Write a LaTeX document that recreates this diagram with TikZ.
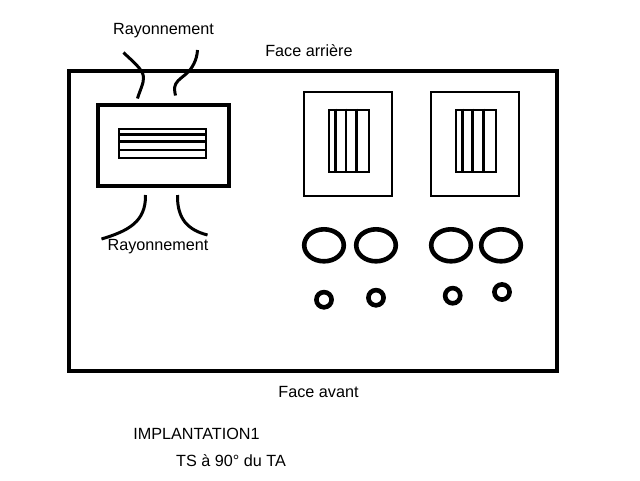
\documentclass[tikz,border=0pt]{standalone}
\usepackage{fontspec}
\setmainfont{Liberation Sans}
\tikzset{
  thick line/.style={line width=4pt,black},
  round part/.style={line width=4.6pt,black},
  thin box/.style={line width=2pt,black},
  strand/.style={line width=3pt,black,line cap=butt},
  fine strand/.style={line width=2.4pt,black},
  flow/.style={line width=3pt,black,line join=round},
  label text/.style={inner sep=0pt,anchor=center,font=\fontsize{16.2}{19}\selectfont,text=black}
}
\begin{document}
\begin{tikzpicture}[x=1pt,y=-1pt]
\useasboundingbox (0,0) rectangle (640,480);
\fill[white] (0,0) rectangle (640,480);

% Enclosure
\draw[thick line] (69,71) rectangle (557,371);

% Radiation paths around the horizontal unit
\draw[flow] (123.5,52.5) .. controls (131,60) and (143,69) .. (143.5,77) .. controls (144,83) and (140,90) .. (137.5,98.5);
\draw[flow] (197.5,50) .. controls (197,60) and (192,69) .. (186,74) .. controls (180,79) and (175,82) .. (174.5,88) .. controls (174.5,91) and (175,93) .. (175.5,95.5);
\draw[flow] (145.5,195) .. controls (146,222) and (128,231) .. (101.5,239);
\draw[flow] (177.5,195) .. controls (177,219) and (188,230) .. (207.5,235);

% Horizontal unit
\draw[thick line] (97.5,104.5) rectangle (229,186);
\draw[thin box] (119,129) rectangle (206,158.3);
\draw[fine strand] (118,134.3) -- (206,134.3);
\draw[strand] (119,141) -- (206,141);
\draw[fine strand] (119,149.7) -- (206,149.7);

% First vertical unit
\draw[thin box] (304,92) rectangle (392,195.7);
\draw[thin box] (328.7,110.3) rectangle (369,172);
\draw[fine strand] (335.3,108.7) -- (335.3,172);
\draw[fine strand] (345.7,108.7) -- (345.7,172);
\draw[strand] (356.3,108.7) -- (356.3,172);

% Second vertical unit
\draw[thin box] (431,92) rectangle (519,195.7);
\draw[thin box] (455.7,110.3) rectangle (496.3,172);
\draw[fine strand] (462.3,108.7) -- (462.3,172);
\draw[fine strand] (472.3,108.7) -- (472.3,172);
\draw[strand] (483.3,108.7) -- (483.3,172);

% Large round parts
\draw[round part] (324,245.3) ellipse [x radius=19.8,y radius=16];
\draw[round part] (376,245.3) ellipse [x radius=19.8,y radius=16];
\draw[round part] (451,245.3) ellipse [x radius=19.8,y radius=16];
\draw[round part] (501,245.3) ellipse [x radius=19.8,y radius=16];

% Small round parts
\draw[round part] (324,299.7) circle [radius=7.6];
\draw[round part] (376,297.7) circle [radius=7.6];
\draw[round part] (452.7,295.7) circle [radius=7.6];
\draw[round part] (502,292) circle [radius=7.6];

% Labels
\node[label text] (rayhaut) at (163.5,31) {Rayonnement};
\node[label text] (arriere) at (309,50.5) {Face arrière};
\node[label text] (raybas) at (158,247) {Rayonnement};
\node[label text] (avant) at (318.5,392) {Face avant};
\node[label text] (impl) at (196.5,434) {IMPLANTATION1};
\node[label text] (ts) at (231,460.5) {TS à 90° du TA};
\end{tikzpicture}
\end{document}
